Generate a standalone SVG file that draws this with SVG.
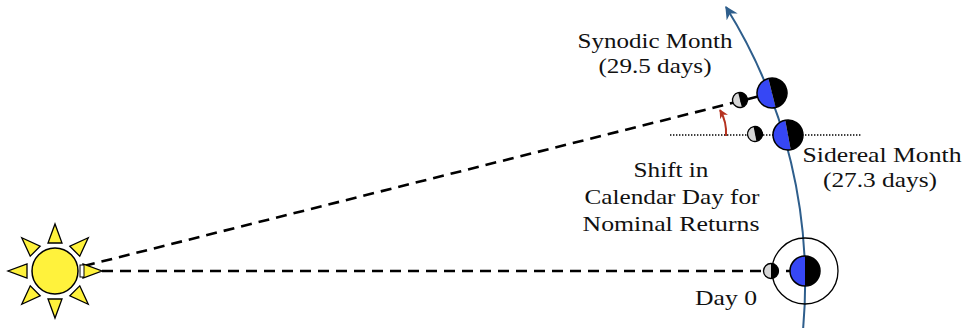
<svg xmlns="http://www.w3.org/2000/svg" xmlns:xlink="http://www.w3.org/1999/xlink" width="964" height="328" viewBox="0 0 964 328">
  <style>
    .lbl { font-family: "Liberation Serif", "Times New Roman", serif; font-size: 21px; fill: #111; text-anchor: middle; }
    .dash { fill: none; stroke: #000; stroke-width: 2.6; stroke-dasharray: 11 7; }
    .dots { fill: none; stroke: #000; stroke-width: 1.4; stroke-dasharray: 1.4 1.6; }
    .orbit { fill: none; stroke: #2e5e8c; stroke-width: 2; }
    .shift { fill: none; stroke: #b5321f; stroke-width: 2; }
    .outline { fill: none; stroke: #000; }
    .ray { fill: #fff23c; stroke: #000; stroke-width: 1.3; stroke-linejoin: miter; }
  </style>
  <defs>
    <marker id="orbitHead" viewBox="0 0 10 10" refX="9" refY="5" markerWidth="13" markerHeight="13" markerUnits="userSpaceOnUse" orient="auto">
      <path d="M0,0 L10,5 L0,10 L3,5 z" fill="#2e5e8c"/>
    </marker>
    <marker id="shiftHead" viewBox="0 0 10 10" refX="9" refY="5" markerWidth="9" markerHeight="9" markerUnits="userSpaceOnUse" orient="auto">
      <path d="M0,0 L10,5 L0,10 L3,5 z" fill="#b5321f"/>
    </marker>
    <polygon id="ray" class="ray" points="-7,-28 7,-28 0,-47"/>
    <!-- Earth: lit half blue (left before rotation), night half black -->
    <g id="earthShape">
      <path d="M0,-15 A15,15 0 0 0 0,15 Z" fill="#3647f5"/>
      <path d="M0,-15 A15,15 0 0 1 0,15 Z" fill="#000"/>
      <circle r="15" class="outline" stroke-width="1.5"/>
    </g>
    <!-- Moon: lit half light grey, dark half black -->
    <g id="moonShape">
      <path d="M0,-7.5 A7.5,7.5 0 0 0 0,7.5 Z" fill="#d6d6d6"/>
      <path d="M0,-7.5 A7.5,7.5 0 0 1 0,7.5 Z" fill="#000"/>
      <circle r="7.5" class="outline" stroke-width="1.3"/>
    </g>
  </defs>

  <rect width="964" height="328" fill="#fff"/>

  <!-- connectors: sight lines, reference line, Earth's orbit, shift arrow -->
  <g id="connectors">
    <line class="dash" x1="84" y1="271" x2="805" y2="271"/>
    <line class="dash" x1="84" y1="266" x2="772" y2="93"/>
    <line class="dots" x1="670" y1="135" x2="862" y2="135"/>
    <path class="orbit" d="M803,330 A520,520 0 0 0 726,7" marker-end="url(#orbitHead)"/>
    <path class="shift" d="M726,136 Q727,122 720,110" marker-end="url(#shiftHead)"/>
  </g>

  <!-- Sun -->
  <g id="sun" transform="translate(55 271)">
    <use xlink:href="#ray"/>
    <use xlink:href="#ray" transform="rotate(45)"/>
    <use xlink:href="#ray" transform="rotate(90)"/>
    <use xlink:href="#ray" transform="rotate(135)"/>
    <use xlink:href="#ray" transform="rotate(180)"/>
    <use xlink:href="#ray" transform="rotate(225)"/>
    <use xlink:href="#ray" transform="rotate(270)"/>
    <use xlink:href="#ray" transform="rotate(315)"/>
    <circle r="23" fill="#fff23c" stroke="#000" stroke-width="1.5"/>
    <rect x="25" y="-6" width="4" height="12" fill="#fff" stroke="#000" stroke-width="1"/>
  </g>

  <!-- Day 0: Earth with the Moon's orbit -->
  <g id="day0">
    <circle cx="805" cy="271" r="33" class="outline" stroke-width="1.3"/>
    <use xlink:href="#moonShape" transform="translate(771 271)"/>
    <use xlink:href="#earthShape" transform="translate(805 271)"/>
    <text class="lbl" x="726" y="305" textLength="62" lengthAdjust="spacingAndGlyphs">Day 0</text>
  </g>

  <!-- Sidereal return -->
  <g id="sidereal">
    <use xlink:href="#moonShape" transform="translate(755 134) rotate(-11)"/>
    <use xlink:href="#earthShape" transform="translate(788 135) rotate(-10.5)"/>
    <text class="lbl" x="882" y="162" textLength="159" lengthAdjust="spacingAndGlyphs">Sidereal Month</text>
    <text class="lbl" x="880" y="187" textLength="114" lengthAdjust="spacingAndGlyphs">(27.3 days)</text>
  </g>

  <!-- Synodic return -->
  <g id="synodic">
    <use xlink:href="#moonShape" transform="translate(740 100) rotate(-14)"/>
    <use xlink:href="#earthShape" transform="translate(772 93) rotate(-14)"/>
    <text class="lbl" x="655" y="48" textLength="155" lengthAdjust="spacingAndGlyphs">Synodic Month</text>
    <text class="lbl" x="655" y="73" textLength="113" lengthAdjust="spacingAndGlyphs">(29.5 days)</text>
  </g>

  <!-- Calendar shift note -->
  <g id="shift-note">
    <text class="lbl" x="671" y="177" textLength="75" lengthAdjust="spacingAndGlyphs">Shift in</text>
    <text class="lbl" x="672" y="204" textLength="175" lengthAdjust="spacingAndGlyphs">Calendar Day for</text>
    <text class="lbl" x="671" y="231" textLength="177" lengthAdjust="spacingAndGlyphs">Nominal Returns</text>
  </g>
</svg>
